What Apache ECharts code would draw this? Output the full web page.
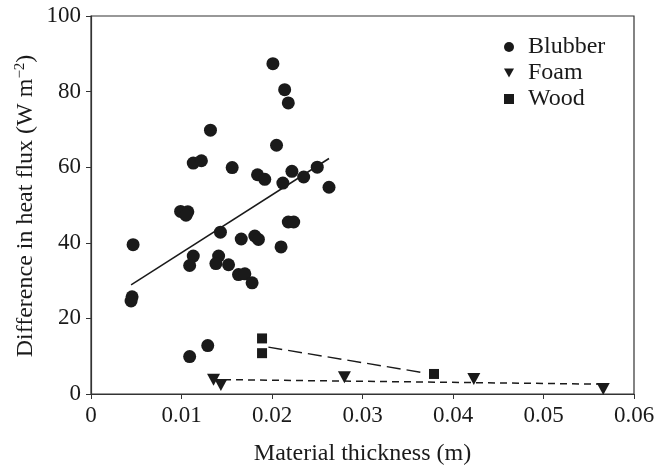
<!DOCTYPE html>
<html>
<head>
<meta charset="utf-8">
<script src="https://cdn.jsdelivr.net/npm/echarts@6/dist/echarts.min.js"></script>
<style>
  html, body { margin: 0; padding: 0; background: #fff; }
  #chart { width: 670px; height: 471px; }
</style>
</head>
<body>
<div id="chart"></div>
<script>
// Material thickness (m) and difference in heat flux (W m^-2)
const blubberX = [0.0201, 0.0214, 0.0218, 0.0132, 0.0205, 0.0113, 0.0122, 0.0156, 0.0184, 0.0192,
                  0.0212, 0.0222, 0.0235, 0.0250, 0.0263, 0.00465, 0.0099, 0.0107, 0.0105, 0.0113,
                  0.0109, 0.00454, 0.00443, 0.0143, 0.0166, 0.0181, 0.0185, 0.0210, 0.0218, 0.0224,
                  0.0141, 0.0138, 0.0152, 0.0163, 0.0170, 0.0178, 0.0109, 0.0129];
const blubberY = [87.4, 80.5, 77.0, 69.8, 65.8, 61.1, 61.7, 59.9, 58.0, 56.8,
                  55.8, 58.9, 57.4, 60.0, 54.7, 39.5, 48.3, 48.2, 47.3, 36.5,
                  34.0, 25.7, 24.6, 42.8, 41.0, 41.8, 40.9, 38.9, 45.5, 45.5,
                  36.5, 34.5, 34.2, 31.6, 31.8, 29.4, 9.9, 12.8];

const foamX = [0.01354, 0.01435, 0.0280, 0.0423, 0.0566];
const foamY = [3.8, 2.4, 4.4, 4.0, 1.3];

const woodX = [0.0189, 0.0189, 0.0379];
const woodY = [14.7, 10.8, 5.3];

// Fitted trend lines (start and end points)
const blubberFitX = [0.00443, 0.0263];
const blubberFitY = [28.9, 62.3];
const foamFitX = [0.0147, 0.0566];
const foamFitY = [3.8, 2.6];
const woodFitX = [0.0196, 0.0366];
const woodFitY = [12.4, 5.7];

const seriesNames = ['Blubber', 'Foam', 'Wood'];

const ink = '#1a1a1a';
const serif = '"Liberation Serif", "DejaVu Serif", serif';
const triDown = 'path://M0,0 L10,0 L5,9 Z';

const pairs = (xs, ys) => xs.map((x, i) => [x, ys[i]]);

const chart = echarts.init(document.getElementById('chart'), null, { renderer: 'canvas' });

chart.setOption({
  animation: false,
  backgroundColor: '#fff',
  grid: {
    left: 91, right: 36, top: 16, bottom: 75,
    show: true, borderColor: '#333', borderWidth: 1.2
  },
  legend: {
    data: [
      { name: seriesNames[0], icon: 'circle', itemStyle: { color: ink } },
      { name: seriesNames[1], icon: triDown, itemStyle: { color: ink } },
      { name: seriesNames[2], icon: 'rect', itemStyle: { color: ink } }
    ],
    orient: 'vertical',
    left: 499, top: 30,
    itemWidth: 10, itemHeight: 10, itemGap: 2,
    textStyle: { fontFamily: serif, fontSize: 24, color: ink, padding: [0, 0, 0, 9] }
  },
  xAxis: {
    type: 'value', min: 0, max: 0.06, interval: 0.01,
    name: 'Material thickness (m)',
    nameLocation: 'middle', nameGap: 48,
    nameTextStyle: { fontFamily: serif, fontSize: 24, color: ink },
    axisLine: { lineStyle: { color: '#333', width: 1.2 } },
    axisTick: { inside: false, length: 5, lineStyle: { color: '#333' } },
    axisLabel: {
      margin: 10, fontFamily: serif, fontSize: 23, color: ink,
      formatter: v => (v === 0 ? '0' : v.toFixed(2))
    },
    splitLine: { show: false }
  },
  yAxis: {
    type: 'value', min: 0, max: 100, interval: 20,
    axisLine: { show: true, lineStyle: { color: '#333', width: 1.2 } },
    axisTick: { show: true, inside: false, length: 5, lineStyle: { color: '#333' } },
    axisLabel: { margin: 10, fontFamily: serif, fontSize: 23, color: ink },
    splitLine: { show: false }
  },
  graphic: [{
    type: 'text',
    x: 26, y: 206,
    rotation: Math.PI / 2,
    style: {
      text: 'Difference in heat flux (W m{sup|−2})',
      fontFamily: serif, fontSize: 24, fill: ink,
      align: 'center', verticalAlign: 'middle',
      rich: { sup: { fontFamily: serif, fontSize: 15, fill: ink, verticalAlign: 'top', padding: [0, 0, 12, 0] } }
    }
  }],
  series: [
    {
      name: seriesNames[0], type: 'scatter', data: pairs(blubberX, blubberY),
      symbol: 'circle', symbolSize: 13, itemStyle: { color: ink, opacity: 1 }, z: 3
    },
    {
      name: seriesNames[1], type: 'scatter', data: pairs(foamX, foamY),
      symbol: triDown, symbolSize: [13, 12], itemStyle: { color: ink, opacity: 1 }, z: 3
    },
    {
      name: seriesNames[2], type: 'scatter', data: pairs(woodX, woodY),
      symbol: 'rect', symbolSize: 10, itemStyle: { color: ink, opacity: 1 }, z: 3
    },
    {
      name: 'Blubber fit', type: 'line', data: pairs(blubberFitX, blubberFitY),
      symbol: 'none', lineStyle: { color: ink, width: 1.5 }, z: 2
    },
    {
      name: 'Foam fit', type: 'line', data: pairs(foamFitX, foamFitY),
      symbol: 'none', lineStyle: { color: ink, width: 1.5, type: [7, 5] }, z: 2
    },
    {
      name: 'Wood fit', type: 'line', data: pairs(woodFitX, woodFitY),
      symbol: 'none', lineStyle: { color: ink, width: 1.5, type: [14, 6] }, z: 2
    }
  ]
});
</script>
</body>
</html>
